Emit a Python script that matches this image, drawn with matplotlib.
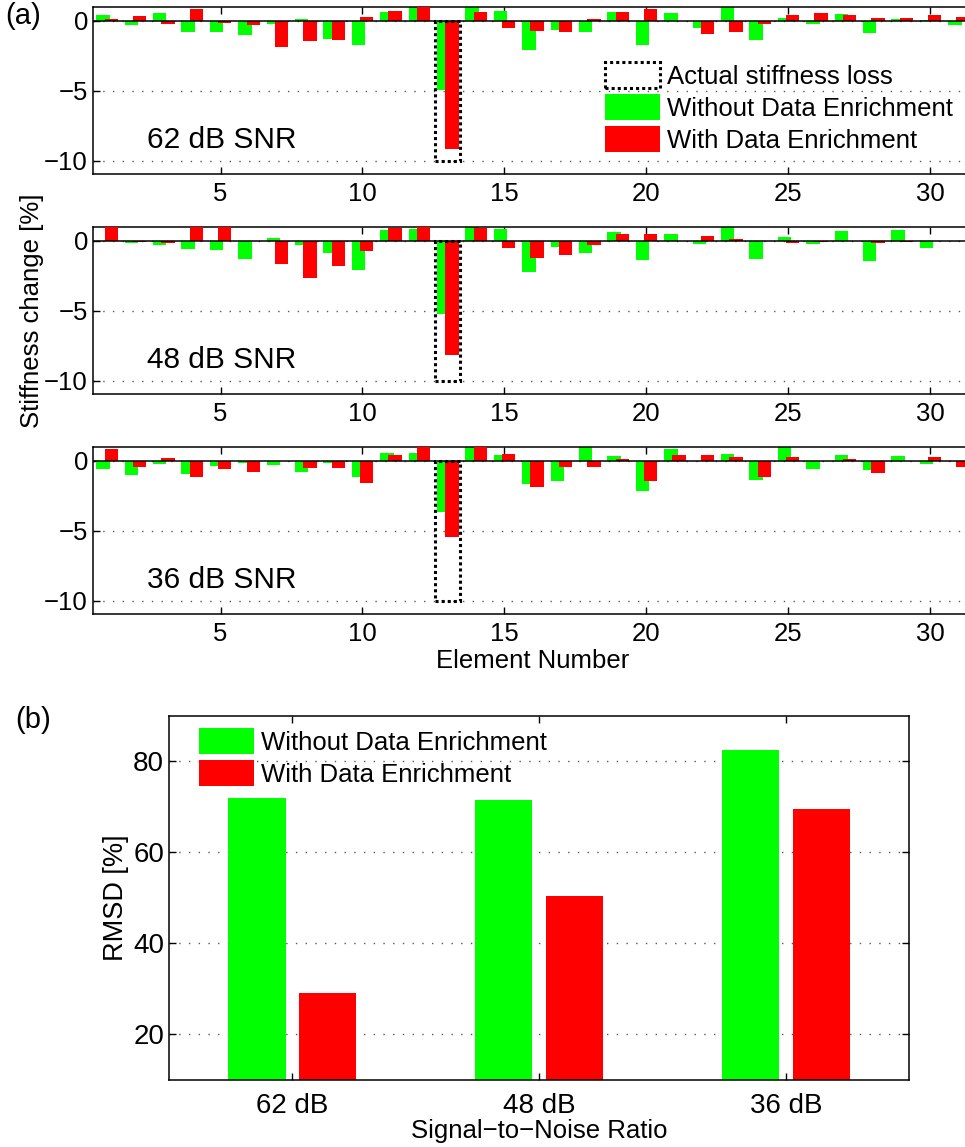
import numpy as np
import matplotlib
matplotlib.use('Agg')
import matplotlib.pyplot as plt
from matplotlib.patches import Rectangle, Patch

plt.rcParams['font.family'] = ['Liberation Sans', 'DejaVu Sans']

########################################################################
### data ###
########################################################################

#element numbers of the structure
elements = np.arange(1, 32)

#identified stiffness change [%] at 62 dB SNR
green_62 = [0.45, -0.31, 0.6, -0.79, -0.76, -1.02, -0.24, 0.17, -1.26,
            -1.69, 0.64, 1.2, -4.95, 1.2, 0.74, -2.07, -0.62, -0.76,
            0.64, -1.74, 0.6, -0.52, 1.1, -1.38, 0.24, -0.19, 0.48,
            -0.86, 0.12, 0.1, -0.26]
red_62 = [0.14, 0.33, -0.21, 0.88, -0.14, -0.29, -1.83, -1.45, -1.38,
          0.31, 0.71, 1.2, -9.14, 0.62, -0.5, -0.71, -0.79, 0.14, 0.64,
          0.88, 0.0, -0.93, -0.81, -0.24, 0.43, 0.55, 0.45, 0.24, 0.24,
          0.43, 0.31]

#identified stiffness change [%] at 48 dB SNR
green_48 = [0.0, -0.14, -0.29, -0.57, -0.64, -1.29, 0.17, -0.33, -0.86,
            -2.07, 0.79, 0.83, -5.21, 1.2, 0.81, -2.21, -0.43, -0.88,
            0.62, -1.36, 0.5, -0.26, 0.98, -1.31, 0.26, -0.21, 0.69,
            -1.43, 0.76, -0.5, 0.0]
red_48 = [0.95, -0.12, -0.17, 0.95, 0.95, 0.0, -1.69, -2.69, -1.83,
          -0.71, 0.88, 1.2, -8.14, 0.88, -0.5, -1.24, -1.0, -0.29, 0.45,
          0.48, 0.0, 0.31, 0.1, 0.0, -0.14, -0.12, 0.0, -0.14, -0.07,
          0.0, 0.0]

#identified stiffness change [%] at 36 dB SNR
green_36 = [-0.57, -1.0, -0.26, -0.95, -0.38, -0.19, -0.33, -0.79, -0.19,
            -1.19, 0.52, 0.52, -3.64, 1.2, 0.4, -1.69, -1.43, 1.2, 0.33,
            -2.14, 0.86, 0.0, 0.48, -1.36, 1.2, -0.57, 0.38, -0.64, 0.33,
            -0.21, 0.0]
red_36 = [0.81, -0.45, 0.17, -1.14, -0.6, -0.79, 0.0, -0.5, -0.52,
          -1.57, 0.4, 1.2, -5.45, 1.2, 0.48, -1.86, -0.48, -0.48, 0.1,
          -1.43, 0.38, 0.38, 0.26, -1.17, 0.29, 0.0, 0.14, -0.86, 0.0,
          0.24, -0.43]

#actual damage: element 13 loses 10 % stiffness
damaged_element = 13
actual_loss = -10

#panel labels
snr_labels = ['62 dB SNR', '48 dB SNR', '36 dB SNR']

#RMSD of the identified stiffness change
snr_names = ['62 dB', '48 dB', '36 dB']
rmsd_without = [72.0, 71.4, 82.4]
rmsd_with = [29.2, 50.4, 69.5]

########################################################################
### styles ###
########################################################################

c_green = '#00ff00'
c_red = '#ff0000'
grid_style = dict(linestyle=(0, (1, 6)), color='0.35', linewidth=1.0)
fs_tick = 18.5
fs_label = 18.5
fs_leg = 18.5

#figure
fig = plt.figure(figsize=(9.65, 11.47), dpi=100)

def style_axes(ax, labelsize, pad):
    ax.tick_params(direction='in', top=True, right=True,
                   labelsize=labelsize, length=5, width=1)
    ax.tick_params(axis='x', pad=pad)
    for sp in ax.spines.values():
        sp.set_linewidth(1.1)
    ax.set_axisbelow(True)

########################################################################
### (a) stiffness change per element ###
########################################################################

panel_pos = [[0.0961, 0.8483, 0.9122, 0.1456],
             [0.0961, 0.6565, 0.9122, 0.1459],
             [0.0961, 0.4647, 0.9122, 0.1458]]
series = [(green_62, red_62), (green_48, red_48), (green_36, red_36)]

axes_a = []
for k in range(3):
    ax = fig.add_axes(panel_pos[k])
    g, r = series[k]

    #grouped bars, red in front
    ax.bar(elements - 0.14, g, width=0.47, color=c_green, zorder=2)
    ax.bar(elements + 0.15, r, width=0.47, color=c_red, zorder=3)

    #baseline
    ax.axhline(0, color='k', linewidth=1.1, zorder=4)

    #dotted box around the true stiffness loss
    ax.add_patch(Rectangle((damaged_element - 0.44, actual_loss), 0.88,
                           -actual_loss, fill=False, edgecolor='k',
                           linestyle=(0, (1, 1)), linewidth=2.2, zorder=5))

    ax.set_xlim(0.5, 31.5)
    ax.set_ylim(-10.95, 1.0)
    ax.set_xticks([5, 10, 15, 20, 25, 30])
    ax.set_yticks([-10, -5, 0])
    ax.yaxis.grid(True, **grid_style)
    style_axes(ax, fs_tick, 6)

    ax.text(0.062, 0.157, snr_labels[k], transform=ax.transAxes,
            fontsize=21.5, ha='left', va='baseline')
    axes_a.append(ax)

#legend in top panel
handles = [Patch(facecolor='none', edgecolor='k', linestyle=(0, (1, 1)),
                 linewidth=2.2),
           Patch(facecolor=c_green, edgecolor='none'),
           Patch(facecolor=c_red, edgecolor='none')]
axes_a[0].legend(handles, ['Actual stiffness loss', 'Without Data Enrichment',
                           'With Data Enrichment'],
                 loc='upper left', bbox_to_anchor=(0.582, 0.67),
                 frameon=False, fontsize=fs_leg, handlelength=2.15,
                 handleheight=1.15, handletextpad=0.28, labelspacing=0.22,
                 borderpad=0, borderaxespad=0)

axes_a[1].set_ylabel('Stiffness change [%]', fontsize=fs_label, labelpad=0)
axes_a[2].set_xlabel('Element Number', fontsize=fs_label, labelpad=2)

fig.text(0.005, 0.9985, '(a)', fontsize=21, ha='left', va='top')

########################################################################
### (b) RMSD vs. SNR ###
########################################################################

ax = fig.add_axes([0.1751, 0.0584, 0.7672, 0.3176])
xb = np.arange(1, len(snr_names) + 1)
ax.bar(xb - 0.143, rmsd_without, width=0.232, color=c_green, zorder=2,
       label='Without Data Enrichment')
ax.bar(xb + 0.143, rmsd_with, width=0.232, color=c_red, zorder=2,
       label='With Data Enrichment')

ax.set_xlim(0.5, 3.5)
ax.set_ylim(10, 90)
ax.set_xticks(xb)
ax.set_xticklabels(snr_names)
ax.set_yticks([20, 40, 60, 80])
ax.yaxis.grid(True, **grid_style)
style_axes(ax, 20, 9)

ax.set_ylabel('RMSD [%]', fontsize=19.5, labelpad=3)
ax.set_xlabel('Signal\u2212to\u2212Noise Ratio', fontsize=fs_label, labelpad=0)

ax.legend(loc='upper left', bbox_to_anchor=(0.0405, 0.966), frameon=False,
          fontsize=fs_leg, handlelength=2.15, handleheight=1.15,
          handletextpad=0.28, labelspacing=0.22, borderpad=0,
          borderaxespad=0)

fig.text(0.016, 0.372, '(b)', fontsize=21, ha='left', va='center')

fig.savefig('out.png', dpi=100)
